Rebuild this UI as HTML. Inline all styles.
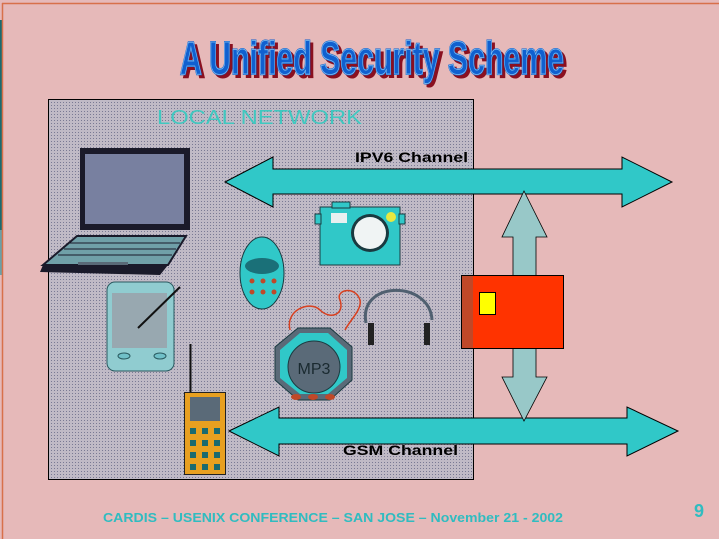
<!DOCTYPE html>
<html><head><meta charset="utf-8"><style>
html,body{margin:0;padding:0;width:719px;height:539px;overflow:hidden;background:#e6b9b9}
svg{display:block}
</style></head><body>
<svg width="719" height="539" viewBox="0 0 719 539" xmlns="http://www.w3.org/2000/svg" font-family="Liberation Sans, sans-serif">
<defs>
<pattern id="dots" width="3" height="3" patternUnits="userSpaceOnUse">
<rect width="3" height="3" fill="#c0bac6"/><rect width="1" height="1" fill="#7a7a94"/>
</pattern>
</defs>
<rect width="719" height="539" fill="#e6b9b9"/>
<rect x="0" y="20" width="3" height="210" fill="#1a6a70"/>
<rect x="0" y="230" width="3" height="45" fill="#6aa0a8"/>
<line x1="2" y1="3.5" x2="719" y2="3.5" stroke="#d8704a" stroke-width="1.5"/>
<line x1="2.5" y1="3" x2="2.5" y2="539" stroke="#d8704a" stroke-width="1.5"/>

<!-- title -->
<text x="183" y="77" font-size="46" font-weight="bold" font-family="Liberation Sans Narrow, Liberation Sans, sans-serif" textLength="384" lengthAdjust="spacingAndGlyphs" fill="#8a1020" stroke="#8a1020" stroke-width="2">A Unified Security Scheme</text>
<text x="180" y="74" font-size="46" font-weight="bold" font-family="Liberation Sans Narrow, Liberation Sans, sans-serif" textLength="384" lengthAdjust="spacingAndGlyphs" fill="#1060d0" stroke="#1060d0" stroke-width="2" paint-order="stroke">A Unified Security Scheme</text>
<text x="180" y="74" font-size="46" font-weight="bold" font-family="Liberation Sans Narrow, Liberation Sans, sans-serif" textLength="384" lengthAdjust="spacingAndGlyphs" fill="none" stroke="#80c0f0" stroke-width="0.8">A Unified Security Scheme</text>

<!-- local network box -->
<rect x="48.5" y="99.5" width="425" height="380" fill="url(#dots)" stroke="#000" stroke-width="1"/>
<text x="157" y="124" font-size="20" fill="#40c8c0" textLength="205" lengthAdjust="spacingAndGlyphs">LOCAL NETWORK</text>

<!-- IPV6 arrow -->
<polygon points="225,182 273,157 273,169 622,169 622,157 672,182 622,207 622,194 273,194 273,207" fill="#30c8c8" stroke="#000" stroke-width="1"/>
<text x="355" y="162" font-size="14" font-weight="bold" fill="#000" textLength="113" lengthAdjust="spacingAndGlyphs">IPV6 Channel</text>
<!-- GSM arrow -->
<polygon points="229,431 279,407 279,418 627,418 627,407 678,431 627,456 627,444 279,444 279,456" fill="#30c8c8" stroke="#000" stroke-width="1"/>
<text x="343" y="455" font-size="14" font-weight="bold" fill="#000" textLength="115" lengthAdjust="spacingAndGlyphs">GSM Channel</text>

<!-- vertical arrow -->
<polygon points="524,191 547,237 536,237 536,377 547,377 524,421 502,377 513,377 513,237 502,237" fill="#98c8c8" stroke="#000" stroke-width="0.8"/>
<!-- red card -->
<rect x="461.5" y="275.5" width="102" height="73" fill="#ff3300" stroke="#000" stroke-width="1"/>
<rect x="462" y="276" width="11" height="72" fill="#c04828"/>
<rect x="479.5" y="292.5" width="16" height="22" fill="#ffff00" stroke="#000" stroke-width="1"/>

<!-- laptop -->
<rect x="80" y="148" width="110" height="82" fill="#1a1a2a"/>
<rect x="85" y="154" width="99" height="70" fill="#7880a0"/>
<polygon points="77,236 186,236 168,265 43,265" fill="#70a0a8" stroke="#1a1a2a" stroke-width="2"/>
<g stroke="#1a1a2a" stroke-width="1">
<line x1="70" y1="243" x2="180" y2="243"/><line x1="64" y1="249" x2="176" y2="249"/><line x1="58" y1="255" x2="172" y2="255"/>
</g>
<rect x="78" y="262" width="50" height="4" fill="#5a6a78"/>
<polygon points="43,265 168,265 160,275 40,272" fill="#1a1a2a"/>

<!-- PDA -->
<rect x="107" y="282" width="67" height="89" rx="8" fill="#90ccd0" stroke="#2a5a60" stroke-width="1"/>
<rect x="112" y="293" width="55" height="55" fill="#98a8b0"/>
<line x1="138" y1="328" x2="180" y2="287" stroke="#111" stroke-width="2"/>
<ellipse cx="124" cy="356" rx="6" ry="3" fill="#70c0c8" stroke="#2a5a60"/>
<ellipse cx="160" cy="356" rx="6" ry="3" fill="#70c0c8" stroke="#2a5a60"/>

<!-- remote -->
<ellipse cx="262" cy="273" rx="22" ry="36" fill="#30c8c8" stroke="#1a3a40"/>
<ellipse cx="262" cy="266" rx="17" ry="8" fill="#1a7078"/>
<g fill="#c04828"><circle cx="252" cy="281" r="2.5"/><circle cx="263" cy="281" r="2.5"/><circle cx="274" cy="281" r="2.5"/><circle cx="252" cy="292" r="2.5"/><circle cx="263" cy="292" r="2.5"/><circle cx="274" cy="292" r="2.5"/></g>

<!-- camera -->
<rect x="320" y="207" width="80" height="58" fill="#30c8c8" stroke="#1a3a40"/>
<rect x="315" y="214" width="6" height="10" fill="#30c8c8" stroke="#1a3a40"/>
<rect x="399" y="214" width="6" height="10" fill="#30c8c8" stroke="#1a3a40"/>
<rect x="332" y="202" width="18" height="6" fill="#30c8c8" stroke="#1a3a40"/>
<rect x="331" y="213" width="16" height="10" fill="#e8f0f0"/>
<circle cx="370" cy="233" r="19" fill="#1a3a40"/>
<circle cx="370" cy="233" r="16" fill="#f0f4f4"/>
<circle cx="391" cy="217" r="5" fill="#e8e840"/>

<!-- headphones & cord -->
<path d="M366,323 C358,280 430,280 432,320" fill="none" stroke="#506070" stroke-width="3"/>
<rect x="368" y="323" width="6" height="22" fill="#222"/>
<rect x="424" y="323" width="6" height="22" fill="#222"/>
<path d="M290,330 C285,310 310,300 320,310 C330,320 345,315 340,300 C335,290 355,285 360,300 C362,310 350,320 345,330" fill="none" stroke="#d84020" stroke-width="1.5"/>

<!-- MP3 -->
<polygon points="298,328 330,328 352,347 352,380 330,400 298,400 275,380 275,347" fill="#5a6a78" stroke="#1a3a40"/>
<polygon points="300,333 328,333 347,350 347,378 328,394 300,394 280,378 280,350" fill="#30c8c8"/>
<circle cx="314" cy="367" r="26" fill="#5a6a78" stroke="#1a3a40"/>
<text x="314" y="374" font-size="16" text-anchor="middle" fill="#1a2a30">MP3</text>
<g fill="#c04828"><ellipse cx="296" cy="397" rx="5" ry="3"/><ellipse cx="313" cy="397" rx="5" ry="3"/><ellipse cx="330" cy="397" rx="5" ry="3"/></g>

<!-- phone -->
<line x1="190.5" y1="344" x2="190.5" y2="392" stroke="#111" stroke-width="2"/>
<rect x="184.5" y="392.5" width="41" height="82" fill="#e8a020" stroke="#222"/>
<rect x="190" y="397" width="30" height="24" fill="#5a6a78"/>
<g fill="#1a6a70">
<rect x="190" y="428" width="6" height="6"/><rect x="202" y="428" width="6" height="6"/><rect x="214" y="428" width="6" height="6"/>
<rect x="190" y="440" width="6" height="6"/><rect x="202" y="440" width="6" height="6"/><rect x="214" y="440" width="6" height="6"/>
<rect x="190" y="452" width="6" height="6"/><rect x="202" y="452" width="6" height="6"/><rect x="214" y="452" width="6" height="6"/>
<rect x="190" y="464" width="6" height="6"/><rect x="202" y="464" width="6" height="6"/><rect x="214" y="464" width="6" height="6"/>
</g>

<!-- footer -->
<text x="103" y="522" font-size="12.5" font-weight="bold" fill="#30bcc0" textLength="460" lengthAdjust="spacingAndGlyphs">CARDIS – USENIX CONFERENCE – SAN JOSE –  November 21 - 2002</text>
<text x="694" y="517" font-size="18" font-weight="bold" fill="#30bcc0">9</text>
</svg>
</body></html>
